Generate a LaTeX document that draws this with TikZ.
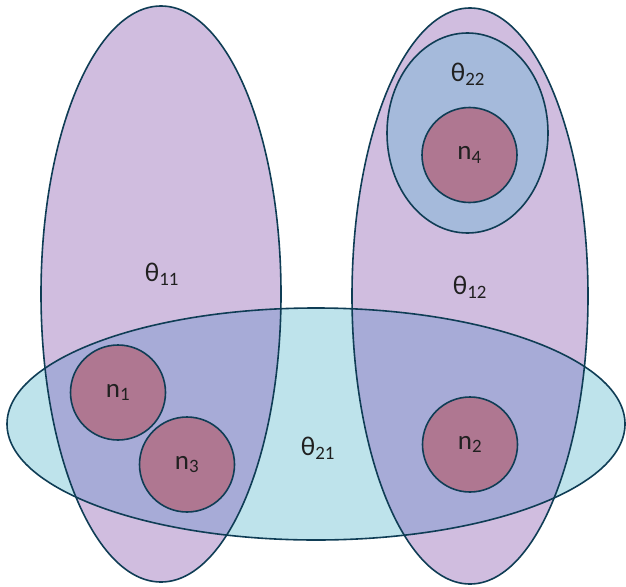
\documentclass[tikz,border=0pt]{standalone}
\usepackage{fontspec}
\setmainfont{Carlito}
\usepackage{xcolor}
\usepackage{tikz}
\usetikzlibrary{calc}
\definecolor{lavfill}{HTML}{D0BDDF}
\definecolor{cyanfill}{HTML}{BEE3EB}
\definecolor{overlapfill}{HTML}{A7ABD7}
\definecolor{steelfill}{HTML}{A5BADB}
\definecolor{mauvefill}{HTML}{AF7791}
\definecolor{outlinedk}{HTML}{0F3D55}
\definecolor{textdark}{HTML}{202020}
\tikzset{every node/.append style={font=\fontsize{27}{30}\selectfont,text=textdark},
  setline/.style={outlinedk,line width=1.6pt},
  member/.style={circle,draw=outlinedk,line width=1.6pt,fill=mauvefill,minimum size=95pt,inner sep=0pt}}

\begin{document}
\begin{tikzpicture}[x=1pt,y=-1pt]
  \useasboundingbox (0,0) rectangle (626,586);
  \fill[lavfill] (161,294) ellipse (120 and 288);
  \fill[lavfill] (470,296) ellipse (118 and 288);
  \fill[cyanfill] (316,424) ellipse (309 and 116);
  \begin{scope}
    \clip (316,424) ellipse (309 and 116);
    \fill[overlapfill] (161,294) ellipse (120 and 288);
    \fill[overlapfill] (470,296) ellipse (118 and 288);
  \end{scope}
  \draw[setline] (161,294) ellipse (120 and 288);
  \draw[setline] (470,296) ellipse (118 and 288);
  \draw[setline] (316,424) ellipse (309 and 116);
  \draw[setline,fill=steelfill] (467.5,133) ellipse (80.5 and 100);
  \node[member] (n1) at (118,392.5) {n\textsubscript{1}};
  \node[member] (n3) at (187,464.5) {n\textsubscript{3}};
  \node[member] (n2) at (470,444.5) {n\textsubscript{2}};
  \node[member] (n4) at (469.5,155) {n\textsubscript{4}};
  \node (t11) at (162,274) {θ\textsubscript{11}};
  \node (t12) at (470,287) {θ\textsubscript{12}};
  \node (t21) at (318,448) {θ\textsubscript{21}};
  \node (t22) at (468,74) {θ\textsubscript{22}};
\end{tikzpicture}
\end{document}
